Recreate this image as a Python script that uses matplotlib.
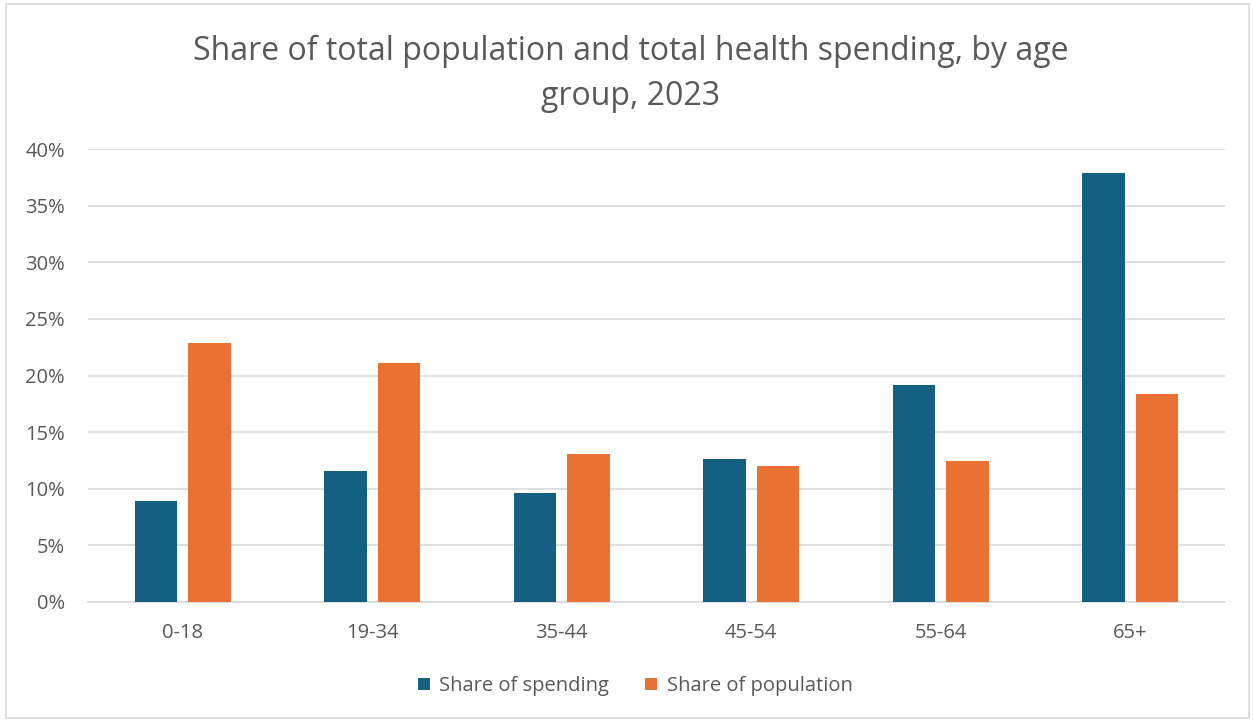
import matplotlib
matplotlib.use("Agg")
import matplotlib.pyplot as plt
from matplotlib.patches import Rectangle
from matplotlib.ticker import PercentFormatter
import numpy as np

plt.rcParams['font.family'] = ['Open Sans', 'DejaVu Sans']

categories = ["0-18", "19-34", "35-44", "45-54", "55-64", "65+"]
share_spending = [8.9, 11.6, 9.6, 12.6, 19.2, 37.9]
share_population = [22.85, 21.1, 13.1, 12.0, 12.4, 18.4]
series_names = ["Share of spending", "Share of population"]
title = "Share of total population and total health spending, by age\ngroup, 2023"

blue = "#156082"
orange = "#E97132"
text_c = "#595959"
grid_c = "#D9D9D9"

W, H = 1253, 722
fig = plt.figure(figsize=(W / 100, H / 100), dpi=100)
ax = fig.add_axes([88 / W, 1 - 601.7 / H, (1225 - 88) / W, (601.7 - 149.3) / H])

x = np.arange(len(categories))
bw = 0.224
off = 0.142
ax.bar(x - off, share_spending, bw, color=blue, label=series_names[0], zorder=3)
ax.bar(x + off, share_population, bw, color=orange, label=series_names[1], zorder=3)

ax.set_xlim(-0.5, len(categories) - 0.5)
ax.set_ylim(0, 40)
ax.set_yticks(np.arange(0, 41, 5))
ax.yaxis.set_major_formatter(PercentFormatter(decimals=0))
ax.set_xticks(x)
ax.set_xticklabels(categories)
ax.grid(axis='y', color=grid_c, lw=1.2, zorder=0)
for s in ['top', 'right', 'left']:
    ax.spines[s].set_visible(False)
ax.spines['bottom'].set_color(grid_c)
ax.spines['bottom'].set_linewidth(1.2)
ax.tick_params(axis='both', length=0, colors=text_c, labelsize=14.5)
ax.tick_params(axis='y', pad=16.5)
ax.tick_params(axis='x', pad=15)

fig.text(0.503, 1 - 74 / H, title, ha='center', va='center', fontsize=23,
         color=text_c, linespacing=1.45)

leg = fig.legend(loc='center', bbox_to_anchor=(0.507, 1 - 686 / H), ncol=2,
                 frameon=False, fontsize=14.5, handlelength=0.6, handleheight=0.6,
                 columnspacing=1.8, handletextpad=0.45)
for t in leg.get_texts():
    t.set_color(text_c)

fig.patches.append(Rectangle((6 / W, 4 / H), (W - 10) / W, (H - 8) / H,
                             transform=fig.transFigure, fill=False,
                             edgecolor=grid_c, lw=1.2))

fig.savefig("out.png", dpi=100, facecolor="white")
